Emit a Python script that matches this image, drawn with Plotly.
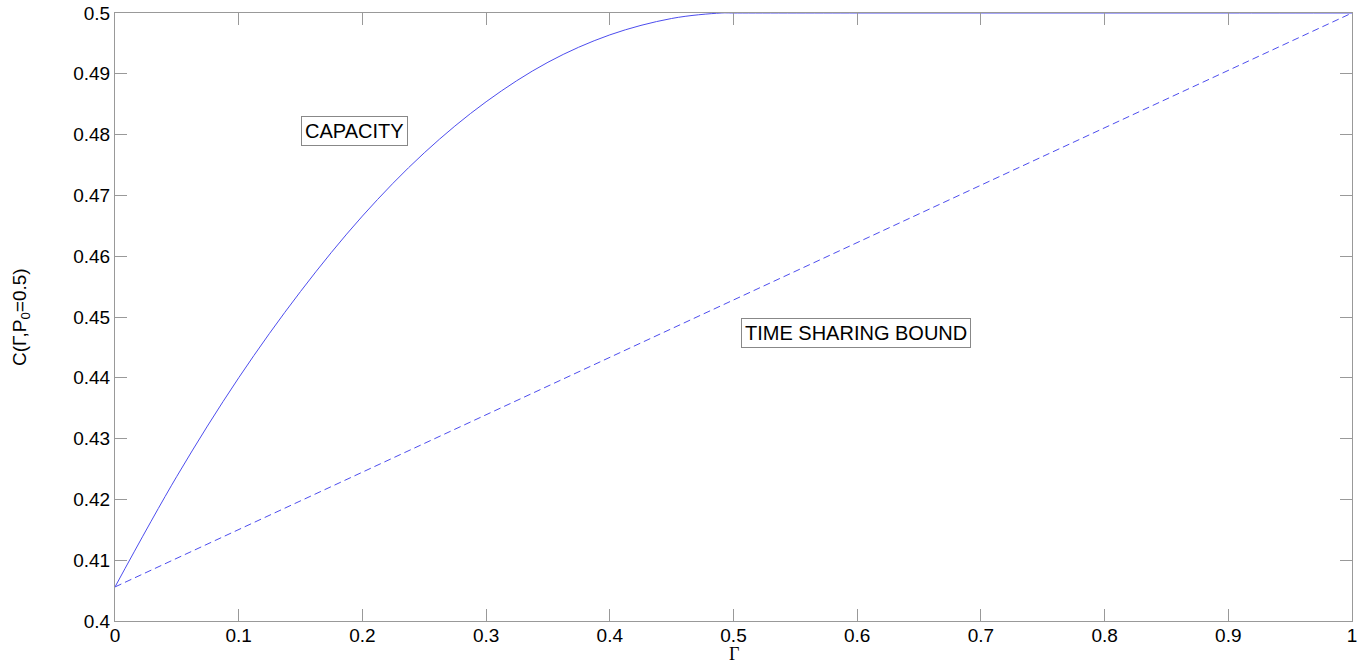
import plotly.graph_objects as go

gamma = [0.0, 0.05, 0.1, 0.15, 0.2, 0.25, 0.3, 0.35, 0.4, 0.45, 0.49, 0.5, 0.6, 0.7, 0.8, 0.9, 1.0]
capacity = [0.4056, 0.4238, 0.4400, 0.4542, 0.4666, 0.4770, 0.4854, 0.4919, 0.4964, 0.4991, 0.5, 0.5, 0.5, 0.5, 0.5, 0.5, 0.5]
ts_gamma = [0.0, 1.0]
ts_bound = [0.4056, 0.5]

x_ticks = [0, 0.1, 0.2, 0.3, 0.4, 0.5, 0.6, 0.7, 0.8, 0.9, 1]
y_ticks = [0.4, 0.41, 0.42, 0.43, 0.44, 0.45, 0.46, 0.47, 0.48, 0.49, 0.5]

line_col = "#4d4dee"
axis_col = "#999999"

fig = go.Figure()
fig.add_trace(go.Scatter(x=gamma, y=capacity, mode="lines",
                         line=dict(color=line_col, width=1, shape="spline", smoothing=1),
                         showlegend=False, hoverinfo="skip", cliponaxis=True))
fig.add_trace(go.Scatter(x=ts_gamma, y=ts_bound, mode="lines",
                         line=dict(color=line_col, width=1, dash="7px,4px"),
                         showlegend=False, hoverinfo="skip"))

fig.add_annotation(x=0.194, y=0.4806, text="CAPACITY", showarrow=False,
                   font=dict(family="Liberation Sans, Arial", size=20, color="black"),
                   bordercolor="#888888", borderwidth=1, borderpad=3, bgcolor="white")
fig.add_annotation(x=0.599, y=0.4474, text="TIME SHARING BOUND", showarrow=False,
                   font=dict(family="Liberation Sans, Arial", size=20, color="black"),
                   bordercolor="#888888", borderwidth=1, borderpad=3, bgcolor="white")

# axis titles
fig.add_annotation(xref="paper", yref="paper", x=-0.076, y=0.5, text="C(Γ,P<sub>0</sub>=0.5)",
                   textangle=-90, showarrow=False, xanchor="center", yanchor="middle",
                   font=dict(family="Liberation Sans, Arial", size=19, color="black"))
fig.add_annotation(xref="paper", yref="paper", x=0.5, y=-0.0535, text="Γ",
                   showarrow=False, xanchor="center", yanchor="middle",
                   font=dict(family="Liberation Serif, Times New Roman", size=18, color="black"))

tickfont = dict(family="Liberation Sans, Arial", size=19, color="black")
fig.update_xaxes(range=[0, 1], tickvals=x_ticks, ticktext=[str(t) for t in x_ticks],
                 ticks="inside", ticklen=12, tickcolor=axis_col, tickwidth=1,
                 showline=True, linecolor=axis_col, linewidth=1, mirror="ticks",
                 showgrid=False, zeroline=False, tickfont=tickfont, automargin=False,
                 ticklabelstandoff=-3)
fig.update_yaxes(range=[0.4, 0.5], tickvals=y_ticks, ticktext=[f"{t:g}" for t in y_ticks],
                 ticks="inside", ticklen=12, tickcolor=axis_col, tickwidth=1,
                 showline=True, linecolor=axis_col, linewidth=1, mirror="ticks",
                 showgrid=False, zeroline=False, tickfont=tickfont, automargin=False)

fig.update_layout(width=1366, height=666, margin=dict(l=115, r=14, t=13, b=45),
                  plot_bgcolor="white", paper_bgcolor="white")
fig.write_html("out.html")
